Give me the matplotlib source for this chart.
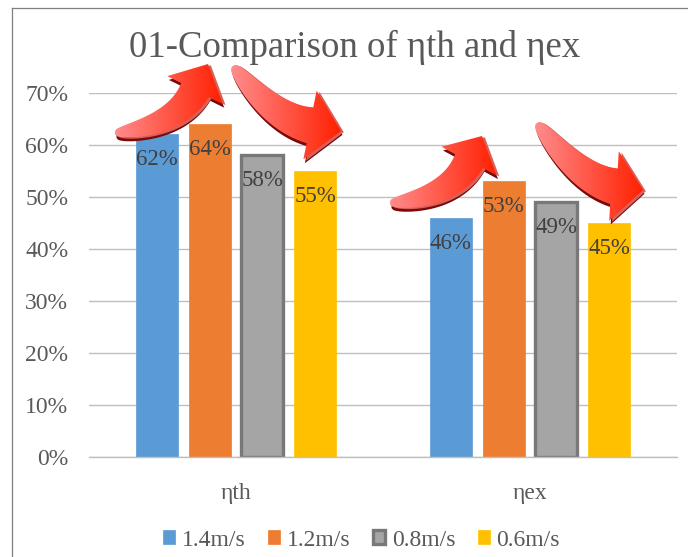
import numpy as np
import matplotlib
matplotlib.use("Agg")
import matplotlib.pyplot as plt
from matplotlib.patches import Polygon, Patch
from matplotlib.lines import Line2D
from matplotlib.ticker import FuncFormatter

plt.rcParams["font.family"] = ["Liberation Serif", "DejaVu Serif"]

# ---- data ----
categories = ["ηth", "ηex"]
series_names = ["1.4m/s", "1.2m/s", "0.8m/s", "0.6m/s"]
eff_14 = [0.62, 0.46]
eff_12 = [0.64, 0.53]
eff_08 = [0.58, 0.49]
eff_06 = [0.55, 0.45]
series_values = [eff_14, eff_12, eff_08, eff_06]
y_ticks = [0.0, 0.1, 0.2, 0.3, 0.4, 0.5, 0.6, 0.7]
title_text = "01-Comparison of ηth and ηex"

# ---- style ----
bar_colors = ["#5B9BD5", "#ED7D31", "#A5A5A5", "#FFC000"]
bar_edges = [None, None, "#787878", None]
text_gray = "#595959"
label_gray = "#404040"
grid_gray = "#BFBFBF"

W, H = 688, 557
fig = plt.figure(figsize=(W / 100, H / 100), dpi=100)
ax = fig.add_axes([89 / W, 1 - 457 / H, 588 / W, 364.4 / H])

x = np.arange(len(categories))
offsets = [-0.27, -0.09, 0.09, 0.27]
width = 0.143

for vals, off, col, edge in zip(series_values, offsets, bar_colors, bar_edges):
    if edge:
        bars = ax.bar(x + off, vals, width, color=col, edgecolor=edge,
                      linewidth=2.4, zorder=2)
    else:
        bars = ax.bar(x + off, vals, width, color=col, edgecolor=col,
                      linewidth=0.5, zorder=2)
    for rect, v in zip(bars, vals):
        ax.annotate(f"{v * 100:.0f}%",
                    xy=(rect.get_x() + rect.get_width() / 2, v),
                    xytext=(0, -22.3), textcoords="offset points",
                    ha="center", va="baseline", fontsize=16.5,
                    color=label_gray, zorder=3)

ax.set_xlim(-0.5, 1.5)
ax.set_ylim(0, 0.70)
ax.set_yticks(y_ticks)
ax.yaxis.set_major_formatter(FuncFormatter(lambda v, p: f"{v * 100:.0f}%"))
ax.set_xticks(x)
ax.set_xticklabels(categories)
ax.tick_params(axis="y", length=0, pad=15, labelsize=17, labelcolor=text_gray)
ax.tick_params(axis="x", length=0, pad=19, labelsize=17, labelcolor=text_gray)
ax.yaxis.grid(True, color=grid_gray, linewidth=1.0)
ax.set_axisbelow(True)
for side in ("left", "right", "top"):
    ax.spines[side].set_visible(False)
ax.spines["bottom"].set_color(grid_gray)
ax.spines["bottom"].set_linewidth(1.0)
ax.patch.set_alpha(0)

# ---- title ----
fig.text(355 / W, 1 - 57.3 / H, title_text, ha="center", va="baseline",
         fontsize=26.5, color=text_gray)

# ---- legend ----
handles = []
for name, col, edge in zip(series_names, bar_colors, bar_edges):
    if edge:
        handles.append(Patch(facecolor=col, edgecolor=edge, linewidth=2.4, label=name))
    else:
        handles.append(Patch(facecolor=col, edgecolor=col, linewidth=0.5, label=name))
fig.legend(handles=handles, loc="center", bbox_to_anchor=(361.5 / W, 1 - 540 / H),
           ncol=4, frameon=False, fontsize=17, labelcolor=text_gray,
           handlelength=0.5, handleheight=0.5, handletextpad=0.3,
           columnspacing=0.95, borderpad=0, borderaxespad=0)

# ---- chart-area frame ----
fig.add_artist(Line2D([12 / W, 12 / W], [0, 1 - 8 / H], transform=fig.transFigure,
                      color="#7F7F7F", linewidth=0.9))
fig.add_artist(Line2D([12 / W, 1], [1 - 8 / H, 1 - 8 / H], transform=fig.transFigure,
                      color="#7F7F7F", linewidth=0.9))

# ---- curved trend arrows (tail, control, head base, tip in data coords) ----
trend_arrows = [
    dict(tail=(-0.4116, 0.6224), ctrl=(-0.2007, 0.6377), base=(-0.1395, 0.7050),
         tip=(-0.0952, 0.7549), body=15.5, head=31),
    dict(tail=(-0.0102, 0.7511), ctrl=(0.1224, 0.6512), base=(0.2517, 0.6377),
         tip=(0.3571, 0.6262), body=18, head=35),
    dict(tail=(0.5238, 0.4879), ctrl=(0.7313, 0.4994), base=(0.7925, 0.5686),
         tip=(0.8367, 0.6166), body=15.5, head=31),
    dict(tail=(1.0238, 0.6416), ctrl=(1.1599, 0.5359), base=(1.2857, 0.5206),
         tip=(1.3844, 0.5129), body=18, head=35),
]

over = fig.add_axes([0, 0, 1, 1], zorder=5)
over.set_xlim(0, W)
over.set_ylim(0, H)
over.set_autoscale_on(False)
over.axis("off")
over.patch.set_alpha(0)

to_over = lambda p: over.transData.inverted().transform(ax.transData.transform(np.atleast_2d(p)))


def arrow_outline(T, C, B, tip, w_base, head_hw, w_tail=1.5, n=80):
    t = np.linspace(0, 1, n)[:, None]
    pts = (1 - t) ** 2 * T + 2 * (1 - t) * t * C + t ** 2 * B
    d = 2 * (1 - t) * (C - T) + 2 * t * (B - C)
    d = d / np.linalg.norm(d, axis=1, keepdims=True)
    nrm = np.column_stack([-d[:, 1], d[:, 0]])
    hw = w_tail + (w_base - w_tail) * t[:, 0] ** 0.45
    left = pts + nrm * hw[:, None]
    right = pts - nrm * hw[:, None]
    hd = (tip - B) / np.linalg.norm(tip - B)
    hn = np.array([-hd[1], hd[0]])
    return np.vstack([left, B + hn * head_hw, tip, B - hn * head_hw, right[::-1]])


grad = np.zeros((2, 128, 3))
c0 = np.array([255, 140, 140]) / 255
c1 = np.array([255, 32, 0]) / 255
ramp = np.linspace(0, 1, 128)[:, None]
grad[:] = c0 * (1 - ramp) + c1 * ramp

for a in trend_arrows:
    T, C, B, tip = (to_over(a[k])[0] for k in ("tail", "ctrl", "base", "tip"))
    poly = arrow_outline(T, C, B, tip, a["body"], a["head"])
    over.add_patch(Polygon(poly + [1.5, -3.8], closed=True, facecolor="#7A0A0A",
                           edgecolor="none", zorder=1))
    over.add_patch(Polygon(poly + [2.8, -1.2], closed=True, facecolor="#D8605A",
                           edgecolor="none", zorder=2))
    face = Polygon(poly, closed=True, facecolor="none", edgecolor="none", zorder=3)
    over.add_patch(face)
    xmin, ymin = poly.min(axis=0)
    xmax, ymax = poly.max(axis=0)
    im = over.imshow(grad, extent=[xmin, xmax, ymin, ymax], origin="lower",
                     aspect="auto", interpolation="bilinear", zorder=3)
    im.set_clip_path(face)

over.set_xlim(0, W)
over.set_ylim(0, H)

fig.savefig("out.png", dpi=100)
